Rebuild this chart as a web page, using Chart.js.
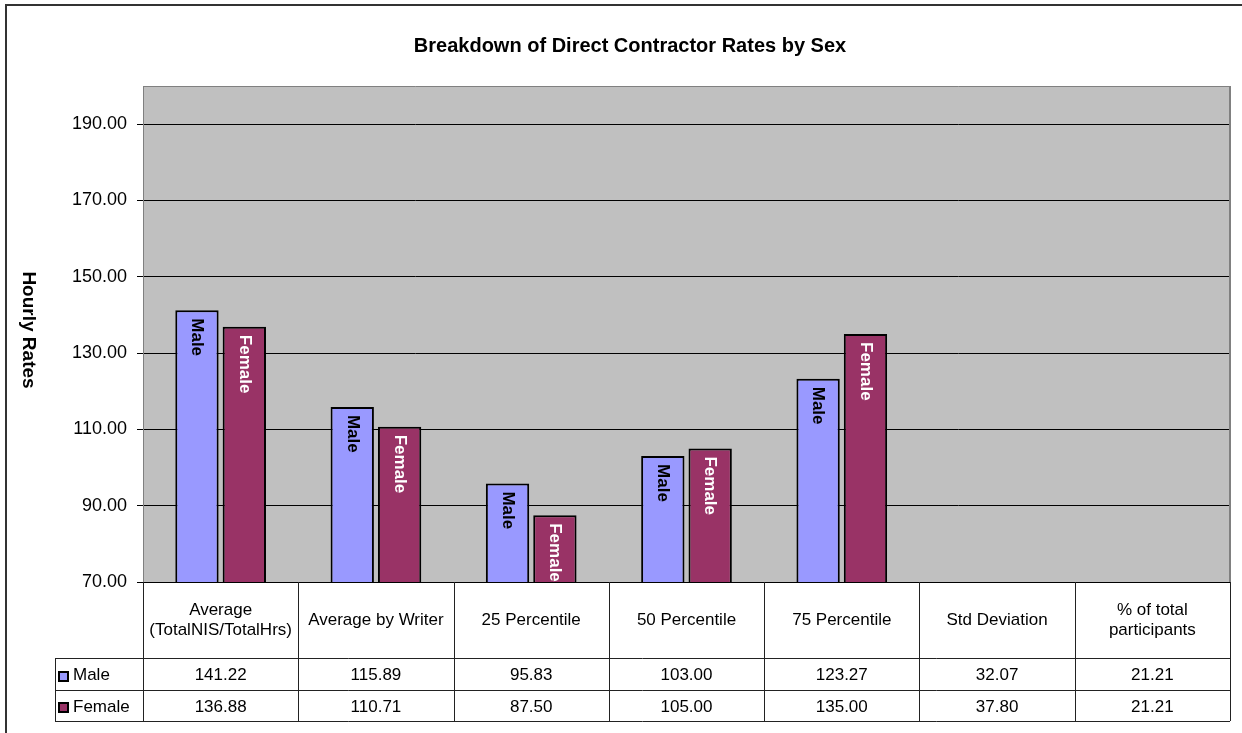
<!DOCTYPE html>
<html>
<head>
<meta charset="utf-8">
<script src="https://cdn.jsdelivr.net/npm/chart.js@4.4.1/dist/chart.umd.min.js"></script>
<style>
html,body{margin:0;padding:0;background:#fff;}
canvas{display:block;}
</style>
</head>
<body>
<canvas id="c" width="1242" height="733"></canvas>
<script>
const chartTitle = 'Breakdown of Direct Contractor Rates by Sex';
const yAxisTitle = 'Hourly Rates';
const categories = [
  ['Average', '(TotalNIS/TotalHrs)'],
  'Average by Writer',
  '25 Percentile',
  '50 Percentile',
  '75 Percentile',
  'Std Deviation',
  ['% of total', 'participants']
];
const maleValues = [141.22, 115.89, 95.83, 103.00, 123.27, 32.07, 21.21];
const femaleValues = [136.88, 110.71, 87.50, 105.00, 135.00, 37.80, 21.21];
const seriesNames = ['Male', 'Female'];
const yTickValues = [70, 90, 110, 130, 150, 170, 190];
const yMin = 70, yMax = 200;

const FONT = "'Liberation Sans', Arial, sans-serif";

const excelPlugin = {
  id: 'excelLook',
  beforeDraw(chart) {
    const ctx = chart.ctx;
    const a = chart.chartArea;
    ctx.save();
    ctx.fillStyle = '#fff';
    ctx.fillRect(0, 0, chart.width, chart.height);
    ctx.fillStyle = '#333';
    ctx.fillRect(5, 4, chart.width, 2);
    ctx.fillRect(5, 4, 2, chart.height);
    ctx.fillStyle = '#C0C0C0';
    ctx.fillRect(a.left, a.top, a.right - a.left, a.bottom - a.top);
    ctx.restore();
  },
  beforeDatasetsDraw(chart) {
    const ctx = chart.ctx;
    const a = chart.chartArea;
    ctx.save();
    ctx.strokeStyle = '#808080';
    ctx.lineWidth = 2;
    ctx.beginPath();
    ctx.moveTo(a.right, a.top);
    ctx.lineTo(a.right, a.bottom);
    ctx.stroke();
    ctx.restore();
  },
  afterDraw(chart) {
    const ctx = chart.ctx;
    const a = chart.chartArea;
    const xs = chart.scales.x;
    const ys = chart.scales.y;
    ctx.save();
    // bar labels
    chart.data.datasets.forEach((ds, di) => {
      const meta = chart.getDatasetMeta(di);
      meta.data.forEach((bar, i) => {
        if (ds.data[i] <= ys.min) return;
        ctx.save();
        ctx.translate(bar.x, bar.y + 8);
        ctx.rotate(Math.PI / 2);
        ctx.font = 'bold 17px ' + FONT;
        ctx.textAlign = 'left';
        ctx.textBaseline = 'middle';
        ctx.fillStyle = di === 0 ? '#000' : '#fff';
        ctx.fillText(ds.label, 0, 0);
        ctx.restore();
      });
    });
    // y axis title
    ctx.save();
    ctx.translate(28, (a.top + a.bottom) / 2 - 4);
    ctx.rotate(Math.PI / 2);
    ctx.font = 'bold 19px ' + FONT;
    ctx.textAlign = 'center';
    ctx.textBaseline = 'middle';
    ctx.fillStyle = '#000';
    ctx.fillText(yAxisTitle, 0, 0);
    ctx.restore();

    // data table
    const n = chart.data.labels.length;
    const cw = (a.right - a.left) / n;
    const rowTop = 658, rowH = 31.5;
    const tableBottom = rowTop + 2 * rowH;
    const legendLeft = 55;
    ctx.strokeStyle = '#222';
    ctx.lineWidth = 1;
    ctx.beginPath();
    for (let i = 0; i <= n; i++) {
      const x = Math.round(a.left + i * cw) + 0.5;
      ctx.moveTo(x, a.bottom);
      ctx.lineTo(x, tableBottom);
    }
    for (let r = 0; r <= 2; r++) {
      const y = Math.round(rowTop + r * rowH) + 0.5;
      ctx.moveTo(legendLeft, y);
      ctx.lineTo(a.right, y);
    }
    ctx.moveTo(legendLeft + 0.5, rowTop);
    ctx.lineTo(legendLeft + 0.5, tableBottom);
    ctx.stroke();

    ctx.font = '17px ' + FONT;
    ctx.textBaseline = 'middle';
    chart.data.datasets.forEach((ds, di) => {
      const cy = rowTop + di * rowH + rowH / 2 + 2;
      ctx.fillStyle = '#000';
      ctx.fillRect(58, Math.round(cy - 5), 11, 11);
      ctx.fillStyle = ds.backgroundColor;
      ctx.fillRect(60, Math.round(cy - 3), 7, 7);
      ctx.fillStyle = '#000';
      ctx.textAlign = 'left';
      ctx.fillText(ds.label, 73, cy);
      ctx.textAlign = 'center';
      ds.data.forEach((v, i) => {
        const cx = xs.getPixelForTick(i);
        ctx.fillText(v.toFixed(2), cx, cy);
      });
    });
    ctx.restore();
  }
};

new Chart(document.getElementById('c'), {
  type: 'bar',
  data: {
    labels: categories,
    datasets: [
      { label: seriesNames[0], data: maleValues, backgroundColor: '#9999FF', borderColor: '#000', borderWidth: 2, clip: 0 },
      { label: seriesNames[1], data: femaleValues, backgroundColor: '#993366', borderColor: '#000', borderWidth: 2, clip: 0 }
    ]
  },
  options: {
    responsive: false,
    animation: false,
    devicePixelRatio: 1,
    layout: { padding: { left: 18, right: 0, top: 0, bottom: 0 } },
    datasets: { bar: { categoryPercentage: 0.61, barPercentage: 0.915 } },
    plugins: {
      legend: { display: false },
      tooltip: { enabled: false },
      title: {
        display: true,
        text: chartTitle,
        color: '#000',
        font: { family: FONT, size: 20, weight: 'bold', lineHeight: 1.2 },
        padding: { top: 34, bottom: 28 }
      }
    },
    scales: {
      x: {
        offset: true,
        grid: { display: false, drawTicks: false },
        border: { display: true, color: '#000', width: 1 },
        ticks: {
          autoSkip: false, maxRotation: 0, minRotation: 0,
          crossAlign: 'center', padding: 28,
          color: '#000', font: { family: FONT, size: 17 }
        },
        afterFit(s) { s.height = 151; }
      },
      y: {
        min: yMin, max: yMax,
        afterBuildTicks(s) {
          s.ticks = yTickValues.concat([yMax]).map(v => ({ value: v }));
        },
        grid: {
          color: (c) => (c.tick && c.tick.value === yMax) ? '#808080' : '#000',
          tickColor: (c) => (c.tick && c.tick.value === yMax) ? 'rgba(0,0,0,0)' : '#000',
          tickLength: 6, lineWidth: 1
        },
        border: { display: true, color: '#808080', width: 1 },
        ticks: {
          padding: 10, color: '#000',
          font: { family: FONT, size: 18 },
          callback: (v) => yTickValues.includes(v) ? v.toFixed(2) : ''
        },
        afterFit(s) { s.width = 125; }
      },
      yr: {
        position: 'right',
        display: true,
        grid: { display: false, drawTicks: false },
        border: { display: false },
        ticks: { display: false },
        afterFit(s) { s.width = 12; }
      }
    }
  },
  plugins: [excelPlugin]
});
</script>
</body>
</html>
